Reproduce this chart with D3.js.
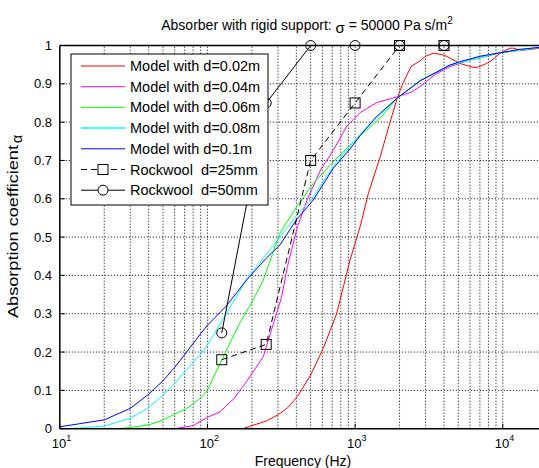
<!DOCTYPE html>
<html><head><meta charset="utf-8">
<script src="https://cdn.jsdelivr.net/npm/d3@7"></script>
<style>
html,body{margin:0;padding:0;background:#fff;}
svg{display:block;font-family:"Liberation Sans",Arial,sans-serif;}
</style></head>
<body><div id="chart"></div>
<script>
// ---- data ----
const seriesNames = ["Model with d=0.02m","Model with d=0.04m","Model with d=0.06m","Model with d=0.08m","Model with d=0.1m"];
const seriesColors = ["#ff0000","#ff00ff","#00ff00","#00ffff","#0000ff"];

const freqD002 = [174,200,250,303,350,407,500,609,750,924,1081,1230,1480,1690,1918,2100,2390,2757,3000,3400,4000,4400,5140,6300,6740,7750,8340,9600,10200,11200,11900,13000,13900,15500,17660,20000];
const alphaD002 = [0,0.008,0.02,0.037,0.055,0.084,0.14,0.21,0.30,0.44,0.527,0.614,0.71,0.788,0.86,0.9,0.945,0.96,0.972,0.98,0.975,0.967,0.953,0.943,0.943,0.953,0.96,0.98,0.985,0.993,0.993,0.987,0.988,0.99,0.993,0.994];

const freqD004 = [60,80,100,122,134,150,184,239,280,318,348,407,473,583,713,880,1081,1400,1918,2400,2757,3500,4400,6000,9600,20000];
const alphaD004 = [0,0.008,0.03,0.044,0.06,0.077,0.123,0.188,0.275,0.344,0.423,0.527,0.597,0.675,0.727,0.79,0.825,0.851,0.866,0.878,0.893,0.925,0.945,0.962,0.981,0.997];

const freqD006 = [25,30,40,50,60,70,80,90,100,125,165,204,239,309,402,521,713,1081,1480,1918,2757,4400,9600,20000];
const alphaD006 = [0,0.003,0.01,0.023,0.038,0.05,0.065,0.08,0.1,0.18,0.275,0.336,0.388,0.51,0.579,0.64,0.697,0.765,0.81,0.862,0.908,0.949,0.981,0.997];

const freqD008 = [11,15,20,30,40,50,60,70,90,100,134,184,250,309,400,521,713,1081,1480,1918,2757,4400,9600,17660,20000];
const alphaD008 = [0,0.003,0.007,0.027,0.055,0.088,0.118,0.148,0.195,0.218,0.30,0.39,0.455,0.50,0.556,0.605,0.685,0.768,0.82,0.862,0.908,0.949,0.981,0.995,0.997];

const freqD010 = [10,20,30,40,50,60,70,90,100,134,184,250,309,400,521,713,925,1081,1400,1918,2757,4400,5140,7000,9600,13000,17660,20000];
const alphaD010 = [0.005,0.023,0.053,0.09,0.125,0.16,0.193,0.248,0.27,0.32,0.388,0.445,0.479,0.545,0.597,0.68,0.73,0.765,0.815,0.862,0.908,0.949,0.958,0.972,0.981,0.99,0.995,0.997];

const rockFreq = [125,250,500,1000,2000,4000];
const rock25 = [0.18,0.22,0.70,0.85,1.0,1.0];
const rock50 = [0.25,0.85,1.0,1.0,1.0,1.0];

const yTicks = [0,0.1,0.2,0.3,0.4,0.5,0.6,0.7,0.8,0.9,1];
const yTickLabels = ["0","0.1","0.2","0.3","0.4","0.5","0.6","0.7","0.8","0.9","1"];
const xMajor = [10,100,1000,10000];
const xMajorExp = ["1","2","3","4"];

// ---- layout ----
const W = 539, H = 468;
const svg = d3.select("#chart").append("svg").attr("width", W).attr("height", H);

const x = d3.scaleLog().domain([10, 20000]).range([59.8, 547.2]);
const y = d3.scaleLinear().domain([0, 1]).range([428.7, 45.5]);

svg.append("defs").append("clipPath").attr("id","clip")
  .append("rect").attr("x", 59.8).attr("y", 38).attr("width", 490).attr("height", 394);

// grid
const xGrid = [];
for (let e = 1; e <= 4; e++) for (let m = 1; m <= 9; m++) { const v = m * Math.pow(10, e); if (v <= 20000) xGrid.push(v); }
xGrid.push(20000);
const g = svg.append("g");
g.selectAll(".vg").data(xGrid.filter(v => v > 10)).enter().append("line")
  .attr("x1", d => x(d)).attr("x2", d => x(d)).attr("y1", y(0)).attr("y2", y(1))
  .attr("stroke", "#000").attr("stroke-width", 1).attr("stroke-dasharray", "1,2");
g.selectAll(".hg").data(yTicks.filter(v => v > 0 && v < 1)).enter().append("line")
  .attr("x1", x(10)).attr("x2", x(20000)).attr("y1", d => y(d)).attr("y2", d => y(d))
  .attr("stroke", "#000").attr("stroke-width", 1).attr("stroke-dasharray", "1,2");

// curves
const line = d3.line().x(d => x(d[0])).y(d => y(d[1]));
const modelF = [freqD002, freqD004, freqD006, freqD008, freqD010];
const modelA = [alphaD002, alphaD004, alphaD006, alphaD008, alphaD010];
const plot = svg.append("g").attr("clip-path", "url(#clip)");
modelF.forEach((fs, i) => {
  const pts = fs.map((f, j) => [f, modelA[i][j]]);
  plot.append("path").attr("d", line(pts)).attr("fill", "none")
    .attr("stroke", seriesColors[i]).attr("stroke-width", 1);
});
// rockwool
const r25 = rockFreq.map((f, j) => [f, rock25[j]]);
const r50 = rockFreq.map((f, j) => [f, rock50[j]]);
plot.append("path").attr("d", line(r25)).attr("fill","none").attr("stroke","#000").attr("stroke-width",1).attr("stroke-dasharray","6,4");
plot.append("path").attr("d", line(r50)).attr("fill","none").attr("stroke","#000").attr("stroke-width",1);
plot.selectAll(".sq").data(r25).enter().append("rect")
  .attr("x", d => x(d[0]) - 5).attr("y", d => y(d[1]) - 5).attr("width", 10).attr("height", 10)
  .attr("fill", "none").attr("stroke", "#000").attr("stroke-width", 1);
plot.selectAll(".ci").data(r50).enter().append("circle")
  .attr("cx", d => x(d[0])).attr("cy", d => y(d[1])).attr("r", 5)
  .attr("fill", "none").attr("stroke", "#000").attr("stroke-width", 1);

// axes lines
svg.append("line").attr("x1", x(10)).attr("x2", W).attr("y1", y(0)).attr("y2", y(0)).attr("stroke","#000").attr("stroke-width",1.5);
svg.append("line").attr("x1", x(10)).attr("x2", W).attr("y1", y(1)).attr("y2", y(1)).attr("stroke","#000").attr("stroke-width",1.5);
svg.append("line").attr("x1", x(10)).attr("x2", x(10)).attr("y1", y(0)).attr("y2", y(1)).attr("stroke","#000").attr("stroke-width",1.5);

// ticks (inward)
svg.selectAll(".yt").data(yTicks).enter().append("line")
  .attr("x1", x(10)).attr("x2", x(10) + 5).attr("y1", d => y(d)).attr("y2", d => y(d)).attr("stroke","#000");
svg.selectAll(".xt").data(xMajor).enter().append("line")
  .attr("x1", d => x(d)).attr("x2", d => x(d)).attr("y1", y(0)).attr("y2", y(0) - 5).attr("stroke","#000");

// tick labels
svg.selectAll(".ytl").data(yTicks).enter().append("text")
  .attr("x", 52).attr("y", d => y(d) + 4.5).attr("text-anchor", "end")
  .attr("font-size", 13).text((d, i) => yTickLabels[i]);
const xl = svg.selectAll(".xtl").data(xMajor).enter().append("text")
  .attr("x", d => x(d) - 8).attr("y", 448).attr("text-anchor", "start").attr("font-size", 13);
xl.append("tspan").text("10");
xl.append("tspan").attr("font-size", 9).attr("dy", -7).text((d, i) => xMajorExp[i]);

// title
const t = svg.append("text").attr("x", 307).attr("y", 30).attr("text-anchor", "middle").attr("font-size", 14);
t.append("tspan").text("Absorber with rigid support: ");
t.append("tspan").attr("dy", 3).attr("font-size", 15).text("σ");
t.append("tspan").attr("dy", -3).text(" = 50000 Pa s/m");
t.append("tspan").attr("dy", -6).attr("font-size", 10).text("2");

// x label
svg.append("text").attr("x", 303).attr("y", 466).attr("text-anchor", "middle").attr("font-size", 14).text("Frequency (Hz)");
// y label
svg.append("text").attr("transform", "translate(18,318) rotate(-90)").attr("text-anchor", "start")
  .attr("font-size", 14).attr("textLength", 173).attr("lengthAdjust", "spacingAndGlyphs")
  .text("Absorption coefficient");
svg.append("text").attr("transform", "translate(22,143) rotate(-90)").attr("text-anchor", "start")
  .attr("font-size", 14).text("α");

// legend
const lg = svg.append("g");
lg.append("rect").attr("x", 71).attr("y", 54).attr("width", 197).attr("height", 151)
  .attr("fill", "#fff").attr("stroke", "#000").attr("stroke-width", 1);
const legendNames = seriesNames.concat(["Rockwool  d=25mm", "Rockwool  d=50mm"]);
const rowY = i => 66 + i * 20.7;
legendNames.forEach((nm, i) => {
  const yy = rowY(i);
  const isR = i >= 5;
  lg.append("line").attr("x1", 81).attr("x2", 125).attr("y1", yy).attr("y2", yy)
    .attr("stroke", isR ? "#000" : seriesColors[i]).attr("stroke-width", i === 3 ? 1.5 : 1)
    .attr("stroke-dasharray", i === 5 ? "6,4" : null);
  if (i === 5) lg.append("rect").attr("x", 98).attr("y", yy - 5).attr("width", 10).attr("height", 10).attr("fill","#fff").attr("stroke","#000");
  if (i === 6) lg.append("circle").attr("cx", 103).attr("cy", yy).attr("r", 5).attr("fill","#fff").attr("stroke","#000");
  lg.append("text").attr("x", 130).attr("y", yy + 5).attr("font-size", 14.5)
    .style("white-space", "pre").text(nm);
});
</script></body></html>
